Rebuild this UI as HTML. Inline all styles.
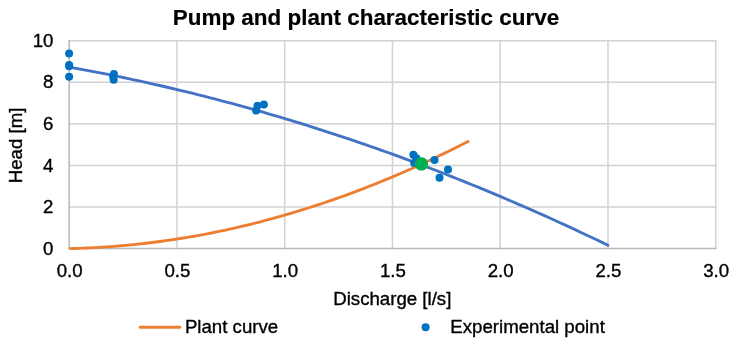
<!DOCTYPE html>
<html><head><meta charset="utf-8"><style>
html,body{margin:0;padding:0;background:#fff;}
svg{display:block;will-change:transform;font-family:"Liberation Sans",sans-serif;font-size:18.67px;fill:#000;}
text{stroke:#000;stroke-width:0.35px;}
text.t{stroke-width:0.2px;}
</style></head><body>
<svg width="733" height="342" viewBox="0 0 733 342">
<rect width="733" height="342" fill="#fff"/>
<line x1="176.95" y1="40.70" x2="176.95" y2="248.60" stroke="#d2d2d2" stroke-width="1.5" stroke-linecap="square"/><line x1="284.70" y1="40.70" x2="284.70" y2="248.60" stroke="#d2d2d2" stroke-width="1.5" stroke-linecap="square"/><line x1="392.45" y1="40.70" x2="392.45" y2="248.60" stroke="#d2d2d2" stroke-width="1.5" stroke-linecap="square"/><line x1="500.20" y1="40.70" x2="500.20" y2="248.60" stroke="#d2d2d2" stroke-width="1.5" stroke-linecap="square"/><line x1="607.95" y1="40.70" x2="607.95" y2="248.60" stroke="#d2d2d2" stroke-width="1.5" stroke-linecap="square"/><line x1="715.70" y1="40.70" x2="715.70" y2="248.60" stroke="#d2d2d2" stroke-width="1.5" stroke-linecap="square"/><line x1="69.20" y1="207.02" x2="715.70" y2="207.02" stroke="#d2d2d2" stroke-width="1.5" stroke-linecap="square"/><line x1="69.20" y1="165.44" x2="715.70" y2="165.44" stroke="#d2d2d2" stroke-width="1.5" stroke-linecap="square"/><line x1="69.20" y1="123.86" x2="715.70" y2="123.86" stroke="#d2d2d2" stroke-width="1.5" stroke-linecap="square"/><line x1="69.20" y1="82.28" x2="715.70" y2="82.28" stroke="#d2d2d2" stroke-width="1.5" stroke-linecap="square"/><line x1="69.20" y1="40.70" x2="715.70" y2="40.70" stroke="#d2d2d2" stroke-width="1.5" stroke-linecap="square"/><line x1="69.20" y1="40.70" x2="69.20" y2="248.60" stroke="#b8b8b8" stroke-width="1.5" stroke-linecap="square"/><line x1="69.20" y1="248.60" x2="715.70" y2="248.60" stroke="#b8b8b8" stroke-width="1.5" stroke-linecap="square"/>
<path d="M69.20,67.10 L74.59,68.07 L79.98,69.05 L85.36,70.05 L90.75,71.06 L96.14,72.09 L101.53,73.14 L106.91,74.20 L112.30,75.28 L117.69,76.38 L123.08,77.49 L128.46,78.62 L133.85,79.77 L139.24,80.93 L144.62,82.11 L150.01,83.30 L155.40,84.52 L160.79,85.75 L166.18,86.99 L171.56,88.25 L176.95,89.53 L182.34,90.83 L187.73,92.14 L193.11,93.46 L198.50,94.81 L203.89,96.17 L209.28,97.55 L214.66,98.94 L220.05,100.35 L225.44,101.78 L230.82,103.22 L236.21,104.68 L241.60,106.16 L246.99,107.65 L252.38,109.16 L257.76,110.68 L263.15,112.22 L268.54,113.78 L273.93,115.36 L279.31,116.95 L284.70,118.56 L290.09,120.18 L295.48,121.82 L300.86,123.48 L306.25,125.16 L311.64,126.85 L317.02,128.55 L322.41,130.28 L327.80,132.02 L333.19,133.77 L338.57,135.55 L343.96,137.34 L349.35,139.14 L354.74,140.97 L360.12,142.81 L365.51,144.66 L370.90,146.53 L376.29,148.42 L381.67,150.33 L387.06,152.25 L392.45,154.19 L397.84,156.14 L403.23,158.11 L408.61,160.10 L414.00,162.11 L419.39,164.13 L424.77,166.16 L430.16,168.22 L435.55,170.29 L440.94,172.37 L446.32,174.48 L451.71,176.60 L457.10,178.73 L462.49,180.89 L467.88,183.06 L473.26,185.24 L478.65,187.44 L484.04,189.66 L489.42,191.90 L494.81,194.15 L500.20,196.42 L505.59,198.70 L510.97,201.00 L516.36,203.32 L521.75,205.66 L527.14,208.01 L532.52,210.37 L537.91,212.76 L543.30,215.16 L548.69,217.57 L554.08,220.01 L559.46,222.46 L564.85,224.92 L570.24,227.41 L575.62,229.91 L581.01,232.42 L586.40,234.95 L591.79,237.50 L597.18,240.07 L602.56,242.65 L607.95,245.25" fill="none" stroke="#4472c4" stroke-width="2.85" stroke-linecap="round" stroke-linejoin="round"/>
<path d="M70.49,248.57 L74.47,248.47 L78.44,248.34 L82.42,248.20 L86.40,248.04 L90.37,247.85 L94.35,247.65 L98.32,247.43 L102.30,247.19 L106.28,246.93 L110.25,246.65 L114.23,246.35 L118.20,246.03 L122.18,245.69 L126.16,245.33 L130.13,244.95 L134.11,244.56 L138.08,244.14 L142.06,243.70 L146.04,243.25 L150.01,242.77 L153.99,242.28 L157.96,241.76 L161.94,241.23 L165.92,240.68 L169.89,240.10 L173.87,239.51 L177.84,238.90 L181.82,238.27 L185.80,237.61 L189.77,236.94 L193.75,236.25 L197.72,235.54 L201.70,234.81 L205.68,234.07 L209.65,233.30 L213.63,232.51 L217.60,231.70 L221.58,230.87 L225.56,230.03 L229.53,229.16 L233.51,228.28 L237.48,227.37 L241.46,226.45 L245.44,225.50 L249.41,224.54 L253.39,223.55 L257.36,222.55 L261.34,221.53 L265.32,220.49 L269.29,219.43 L273.27,218.35 L277.24,217.24 L281.22,216.12 L285.20,214.98 L289.17,213.83 L293.15,212.65 L297.12,211.45 L301.10,210.23 L305.08,208.99 L309.05,207.74 L313.03,206.46 L317.00,205.17 L320.98,203.85 L324.96,202.52 L328.93,201.16 L332.91,199.79 L336.88,198.39 L340.86,196.98 L344.84,195.55 L348.81,194.10 L352.79,192.62 L356.76,191.13 L360.74,189.62 L364.72,188.09 L368.69,186.54 L372.67,184.97 L376.64,183.38 L380.62,181.78 L384.60,180.15 L388.57,178.50 L392.55,176.83 L396.52,175.15 L400.50,173.44 L404.47,171.72 L408.45,169.97 L412.43,168.21 L416.40,166.42 L420.38,164.62 L424.35,162.79 L428.33,160.95 L432.31,159.09 L436.28,157.21 L440.26,155.31 L444.23,153.39 L448.21,151.45 L452.19,149.49 L456.16,147.51 L460.14,145.51 L464.11,143.49 L468.09,141.45" fill="none" stroke="#ed7d31" stroke-width="2.85" stroke-linecap="round" stroke-linejoin="round"/>
<circle cx="69.1" cy="53.5" r="4" fill="#0070c0"/><circle cx="69.1" cy="65.1" r="4" fill="#0070c0"/><circle cx="69.1" cy="66.2" r="4" fill="#0070c0"/><circle cx="69.1" cy="76.8" r="4" fill="#0070c0"/><circle cx="113.9" cy="74.1" r="4" fill="#0070c0"/><circle cx="113.2" cy="76.9" r="4" fill="#0070c0"/><circle cx="113.7" cy="79.7" r="4" fill="#0070c0"/><circle cx="256.2" cy="110.6" r="4" fill="#0070c0"/><circle cx="257.5" cy="105.8" r="4" fill="#0070c0"/><circle cx="263.9" cy="104.5" r="4" fill="#0070c0"/><circle cx="413.4" cy="154.7" r="4" fill="#0070c0"/><circle cx="416.4" cy="158.2" r="4" fill="#0070c0"/><circle cx="414.2" cy="163" r="4" fill="#0070c0"/><circle cx="434.5" cy="160" r="4" fill="#0070c0"/><circle cx="448" cy="169.5" r="4" fill="#0070c0"/><circle cx="439.5" cy="177.8" r="4" fill="#0070c0"/>
<circle cx="421.4" cy="163.9" r="6.7" fill="#00b050"/>
<text x="366.0" y="25.4" class="t" text-anchor="middle" font-weight="bold" font-size="22.43">Pump and plant characteristic curve</text>
<text x="69.60" y="276.6" text-anchor="middle">0.0</text><text x="177.35" y="276.6" text-anchor="middle">0.5</text><text x="285.10" y="276.6" text-anchor="middle">1.0</text><text x="392.85" y="276.6" text-anchor="middle">1.5</text><text x="500.60" y="276.6" text-anchor="middle">2.0</text><text x="608.35" y="276.6" text-anchor="middle">2.5</text><text x="716.10" y="276.6" text-anchor="middle">3.0</text><text x="53.5" y="254.70" text-anchor="end">0</text><text x="53.5" y="213.12" text-anchor="end">2</text><text x="53.5" y="171.54" text-anchor="end">4</text><text x="53.5" y="129.96" text-anchor="end">6</text><text x="53.5" y="88.38" text-anchor="end">8</text><text x="53.5" y="46.80" text-anchor="end">10</text>
<text x="392.3" y="305" text-anchor="middle">Discharge [l/s]</text>
<text transform="translate(21.5,145.4) rotate(-90)" text-anchor="middle">Head [m]</text>
<line x1="140.2" y1="327.3" x2="179.8" y2="327.3" stroke="#ed7d31" stroke-width="2.9" stroke-linecap="round"/>
<text x="184.9" y="333">Plant curve</text>
<circle cx="425.6" cy="327.2" r="4" fill="#0070c0"/>
<text x="450.3" y="333">Experimental point</text>
</svg>
</body></html>
